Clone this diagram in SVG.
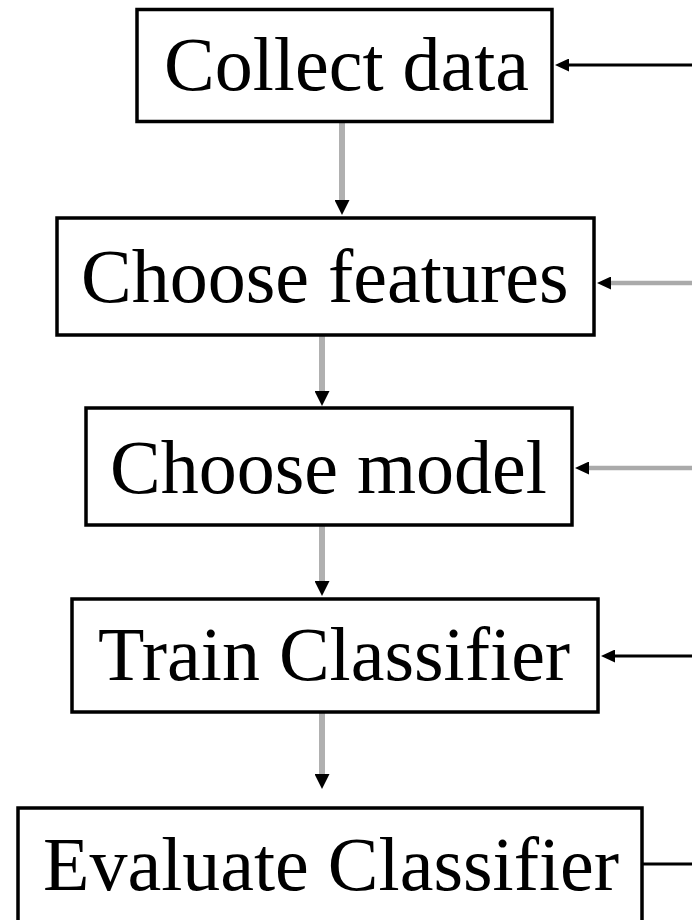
<svg xmlns="http://www.w3.org/2000/svg" width="692" height="920" viewBox="0 0 692 920">
<style>
.box{fill:#fff;stroke:#000;stroke-width:3.5}
.lbl{font-family:"Liberation Serif","Times New Roman",serif;font-size:76px;fill:#000}
.gv{stroke:#b0b0b0;stroke-width:6;fill:none}
.gh{stroke:#aaaaaa;stroke-width:4.5;fill:none}
.bk{stroke:#000;stroke-width:3;fill:none}
</style>
<defs>
<marker id="ah" markerWidth="16" markerHeight="15" refX="0" refY="7.5" orient="auto" markerUnits="userSpaceOnUse">
<path d="M0,0 L15,7.5 L0,15 z" fill="#000"/>
</marker>
<marker id="ahs" markerWidth="15" markerHeight="13" refX="0" refY="6.5" orient="auto" markerUnits="userSpaceOnUse">
<path d="M0,0 L14,6.5 L0,13 z" fill="#000"/>
</marker>
</defs>
<g id="connectors">
<line class="gv" x1="342" y1="122" x2="342" y2="200" marker-end="url(#ah)"/>
<line class="gv" x1="322" y1="335" x2="322" y2="391" marker-end="url(#ah)"/>
<line class="gv" x1="322" y1="525" x2="322" y2="581" marker-end="url(#ah)"/>
<line class="gv" x1="322" y1="712" x2="322" y2="774" marker-end="url(#ah)"/>
<line class="bk" x1="692" y1="65" x2="569" y2="65" marker-end="url(#ahs)"/>
<line class="gh" x1="692" y1="283" x2="611" y2="283" marker-end="url(#ahs)"/>
<line class="gh" x1="692" y1="468" x2="589" y2="468" marker-end="url(#ahs)"/>
<line class="bk" x1="692" y1="656" x2="615" y2="656" marker-end="url(#ahs)"/>
<line class="bk" x1="642" y1="864" x2="692" y2="864"/>
</g>
<g id="collect-data">
<rect class="box" x="137" y="9.5" width="415" height="112"/>
<text class="lbl" x="164" y="90">Collect data</text>
</g>
<g id="choose-features">
<rect class="box" x="57" y="218" width="537" height="117"/>
<text class="lbl" x="81" y="302">Choose features</text>
</g>
<g id="choose-model">
<rect class="box" x="86" y="408" width="486" height="117"/>
<text class="lbl" x="110" y="493">Choose model</text>
</g>
<g id="train-classifier">
<rect class="box" x="72" y="599" width="526" height="113"/>
<text class="lbl" x="98" y="680">Train Classifier</text>
</g>
<g id="evaluate-classifier">
<rect class="box" x="18" y="808" width="624" height="130"/>
<text class="lbl" x="43" y="890">Evaluate Classifier</text>
</g>
</svg>
